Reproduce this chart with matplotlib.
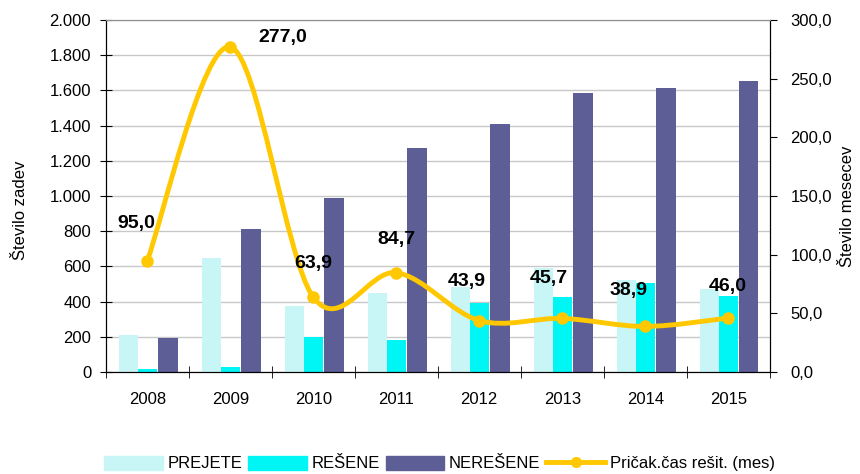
import numpy as np
import matplotlib.pyplot as plt
from matplotlib.path import Path
from matplotlib.patches import PathPatch, Patch
from matplotlib.lines import Line2D
from matplotlib.ticker import FuncFormatter, MultipleLocator, FixedLocator

plt.rcParams['font.family'] = ['Liberation Sans', 'DejaVu Sans']

# podatki
leta = ['2008', '2009', '2010', '2011', '2012', '2013', '2014', '2015']
prejete = [210, 648, 375, 450, 483, 590, 523, 472]
resene = [20, 30, 200, 182, 392, 426, 505, 432]
neresene = [195, 812, 990, 1272, 1409, 1585, 1614, 1653]
cas = [95.0, 277.0, 63.9, 84.7, 43.9, 45.7, 38.9, 46.0]

# odmiki oznak (v tockah)
odmiki = [(-8, 27), (38, 7), (0, 24), (0, 24), (-9, 28), (-10, 29), (-12, 26), (0, 23)]

c_prej = '#C8F5F5'
c_res = '#00F5F5'
c_nere = '#5E5E96'
c_cas = '#FFC800'

fig = plt.figure(figsize=(8.6, 4.74), dpi=100)
ax = fig.add_axes([0.123, 0.215, 0.772, 0.743])
ax2 = ax.twinx()

x = np.arange(len(leta))
w = 0.23
ax.bar(x - w, prejete, w, color=c_prej, zorder=2)
ax.bar(x, resene, w, color=c_res, zorder=2)
ax.bar(x + w + 0.02, neresene, w, color=c_nere, zorder=2)

ax.set_xlim(-0.5, len(leta) - 0.5)
ax.set_ylim(0, 2000)
ax.yaxis.set_major_locator(MultipleLocator(200))
ax.yaxis.set_major_formatter(FuncFormatter(lambda v, p: f'{int(v):,}'.replace(',', '.')))
ax.grid(axis='y', color='#C8C8C8', linewidth=1, zorder=0)
ax.set_axisbelow(True)
ax.set_xticks(x)
ax.set_xticklabels(leta)
ax.xaxis.set_minor_locator(FixedLocator(np.arange(-0.5, len(leta), 1)))
ax.tick_params(axis='x', which='major', length=0, pad=14, labelsize=12)
ax.tick_params(axis='x', which='minor', length=9, direction='inout')
ax.tick_params(axis='y', length=9, direction='inout', labelsize=12, pad=6)
ax.set_ylabel('Število zadev', fontsize=12)
ax.yaxis.set_label_coords(-0.117, 0.46)

ax2.set_ylim(0, 300)
ax2.yaxis.set_major_locator(MultipleLocator(50))
ax2.yaxis.set_major_formatter(FuncFormatter(lambda v, p: f'{v:.1f}'.replace('.', ',')))
ax2.tick_params(axis='y', length=5, direction='out', labelsize=12, pad=10)
ax2.set_ylabel('Število mesecev', fontsize=12)
ax2.yaxis.set_label_coords(1.106, 0.47)

for a in (ax, ax2):
    a.spines['top'].set_color('#909090')
    for s in ('left', 'right', 'bottom'):
        a.spines[s].set_color('black')

# zglajena crta (Bezier skozi tocke)
pts = np.column_stack([x, cas]).astype(float)
verts = [pts[0]]
codes = [Path.MOVETO]
n = len(pts)
for i in range(n - 1):
    p0 = pts[i - 1] if i > 0 else pts[i]
    p1 = pts[i]
    p2 = pts[i + 1]
    p3 = pts[i + 2] if i + 2 < n else pts[i + 1]
    verts += [p1 + (p2 - p0) / 6, p2 - (p3 - p1) / 6, p2]
    codes += [Path.CURVE4] * 3
ax2.add_patch(PathPatch(Path(verts, codes), facecolor='none', edgecolor=c_cas,
                        linewidth=3.5, capstyle='round', joinstyle='round', zorder=3))
ax2.plot(x, cas, 'o', color=c_cas, markersize=8, zorder=4)

for xi, v, (dx, dy) in zip(x, cas, odmiki):
    ax2.annotate(f'{v:.1f}'.replace('.', ','), (xi, v), xytext=(dx, dy),
                 textcoords='offset points', ha='center', va='center',
                 fontsize=14, fontweight='bold', zorder=5)

handles = [Patch(color=c_prej), Patch(color=c_res), Patch(color=c_nere),
           Line2D([], [], color=c_cas, linewidth=3.5, marker='o', markersize=7)]
labels = ['PREJETE', 'REŠENE', 'NEREŠENE', 'Pričak.čas rešit. (mes)']
fig.legend(handles, labels, loc='center', bbox_to_anchor=(0.511, 0.022), ncol=4,
           frameon=False, fontsize=12, handlelength=3.5, handletextpad=0.3,
           columnspacing=0.35, handleheight=0.9)

fig.savefig('out.png', dpi=100)
